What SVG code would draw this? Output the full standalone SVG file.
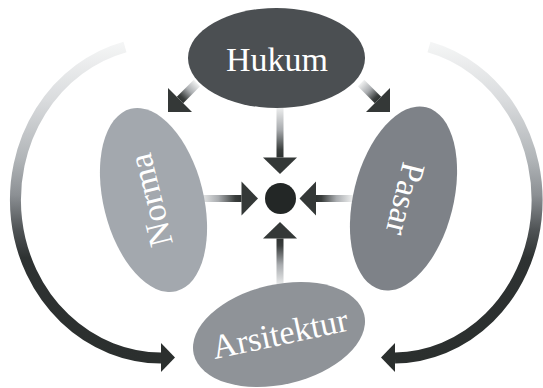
<svg xmlns="http://www.w3.org/2000/svg" width="543" height="388" viewBox="0 0 543 388">
  <defs>
    <!-- shaft shading: pale at the tail, dark at the head (local +x) -->
    <linearGradient id="shaftGrad" x1="0" y1="0" x2="1" y2="0">
      <stop offset="0" stop-color="#f0f1f1"/>
      <stop offset="0.45" stop-color="#a9acaf"/>
      <stop offset="0.85" stop-color="#3a3e3d"/>
      <stop offset="1" stop-color="#2e3231"/>
    </linearGradient>
    <!-- shading for the two large side arcs, pale on top, dark below -->
    <linearGradient id="arcGrad" gradientUnits="userSpaceOnUse" x1="0" y1="40" x2="0" y2="360">
      <stop offset="0" stop-color="#f6f7f7"/>
      <stop offset="0.19" stop-color="#d9dbdd"/>
      <stop offset="0.375" stop-color="#b0b4b7"/>
      <stop offset="0.484" stop-color="#8c9094"/>
      <stop offset="0.594" stop-color="#4f5355"/>
      <stop offset="0.68" stop-color="#2e3232"/>
      <stop offset="1" stop-color="#2b2f2e"/>
    </linearGradient>
  </defs>
  <style>
    .head { fill: #343837; }
    .arc { fill: none; stroke: url(#arcGrad); stroke-width: 11; }
    .archead { fill: #2b2f2e; }
    .lbl { font-family: "Liberation Serif", "Times New Roman", serif; font-size: 34px; fill: #ffffff; text-anchor: middle; }
  </style>

  <rect width="543" height="388" fill="#ffffff"/>

  <g id="connectors">
    <!-- large side arcs -->
    <path class="arc" d="M125,47 A146,158 0 0,0 161,358"/>
    <polygon class="archead" points="161,343 175,357.5 161,372"/>
    <path class="arc" d="M429,47 A144,158 0 0,1 395,358"/>
    <polygon class="archead" points="395,343 381,357.5 395,372"/>

    <!-- Hukum to centre -->
    <g transform="translate(280,157.5) rotate(90)">
      <rect x="-51" y="-3.5" width="51" height="7" fill="url(#shaftGrad)"/>
      <polygon class="head" points="0,-17 16.5,0 0,17"/>
    </g>
    <!-- Arsitektur to centre -->
    <g transform="translate(280,238.5) rotate(-90)">
      <rect x="-48" y="-3.5" width="48" height="7" fill="url(#shaftGrad)"/>
      <polygon class="head" points="0,-17 16.5,0 0,17"/>
    </g>
    <!-- Norma to centre -->
    <g transform="translate(241.5,198.5)">
      <rect x="-42" y="-3.5" width="42" height="7" fill="url(#shaftGrad)"/>
      <polygon class="head" points="0,-17 16.5,0 0,17"/>
    </g>
    <!-- Pasar to centre -->
    <g transform="translate(316,198.5) rotate(180)">
      <rect x="-37" y="-3.5" width="37" height="7" fill="url(#shaftGrad)"/>
      <polygon class="head" points="0,-17 16.5,0 0,17"/>
    </g>
    <!-- Hukum to Norma -->
    <g transform="translate(180,100) rotate(135)">
      <rect x="-24" y="-4.5" width="24" height="9" fill="url(#shaftGrad)"/>
      <polygon class="head" points="0,-17 17,0 0,17"/>
    </g>
    <!-- Hukum to Pasar -->
    <g transform="translate(378,100) rotate(45)">
      <rect x="-24" y="-4.5" width="24" height="9" fill="url(#shaftGrad)"/>
      <polygon class="head" points="0,-17 17,0 0,17"/>
    </g>
  </g>

  <g id="pusat">
    <circle cx="280.5" cy="198.5" r="15.5" fill="#232726"/>
  </g>

  <g id="hukum">
    <ellipse cx="276.5" cy="58" rx="88.5" ry="50" fill="#4b4f52"/>
    <text class="lbl" x="277" y="71">Hukum</text>
  </g>

  <g id="norma">
    <ellipse cx="0" cy="0" rx="94" ry="50" fill="#a3a8ae" transform="translate(153.5,200) rotate(76)"/>
    <text class="lbl" x="0" y="11" transform="translate(151,200) rotate(-104)">Norma</text>
  </g>

  <g id="pasar">
    <ellipse cx="0" cy="0" rx="94" ry="50" fill="#7e8288" transform="translate(403.5,198.5) rotate(-76)"/>
    <text class="lbl" x="0" y="11" transform="translate(405,199) rotate(104)">Pasar</text>
  </g>

  <g id="arsitektur">
    <ellipse cx="0" cy="0" rx="87.5" ry="50" fill="#8f9398" transform="translate(279,334.5) rotate(-13)"/>
    <text class="lbl" x="0" y="11" transform="translate(280,334) rotate(-12)">Arsitektur</text>
  </g>
</svg>
